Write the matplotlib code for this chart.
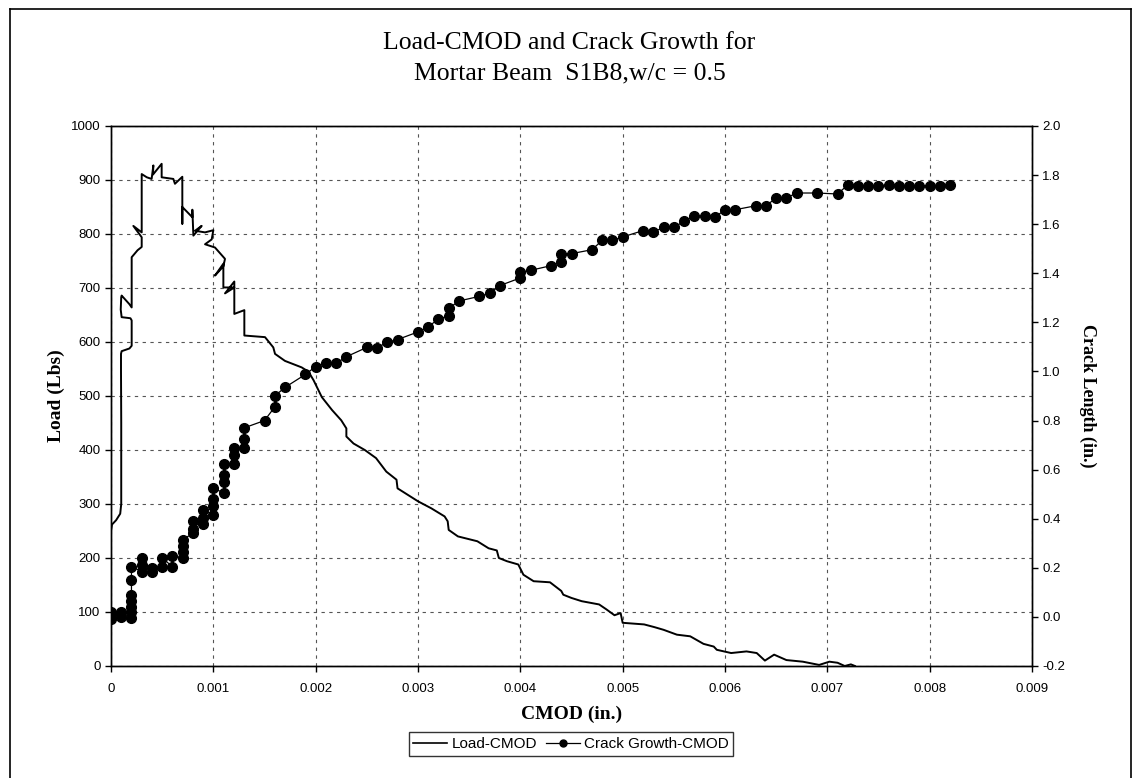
import numpy as np
import matplotlib
matplotlib.use('Agg')
import matplotlib.pyplot as plt
from matplotlib.lines import Line2D

# Load-CMOD curve (CMOD in., load lbs)
load_cmod = [0.0, 0.00001, 0.00005, 0.00009, 0.0001, 0.0001, 0.0000977, 0.0000977,
             0.000104, 0.00018, 0.000202, 0.000202, 0.00019, 0.000104, 0.000095, 0.0001,
             0.000104, 0.00018, 0.000202, 0.000202, 0.00026, 0.0003, 0.0003, 0.000218,
             0.0003, 0.0003, 0.00035, 0.000397, 0.000414, 0.00041, 0.000495, 0.000495,
             0.000609, 0.000625, 0.000697, 0.000697, 0.000697, 0.000795, 0.000795, 0.000805,
             0.000886, 0.000821, 0.000919, 0.001, 0.000984, 0.000919, 0.001016, 0.001114,
             0.001098, 0.001016, 0.001098, 0.001098, 0.001205, 0.001114, 0.001205, 0.001205,
             0.001303, 0.001303, 0.001505, 0.001586, 0.001603, 0.0017, 0.001863, 0.00193,
             0.00198, 0.00206, 0.00216, 0.00225, 0.0023, 0.0023, 0.00237, 0.00248,
             0.00259, 0.00269, 0.00279, 0.0028, 0.0029, 0.003, 0.00313, 0.00326,
             0.00329, 0.0033, 0.00339, 0.00358, 0.00369, 0.00377, 0.00379, 0.00387,
             0.00398, 0.00403, 0.00413, 0.00429, 0.0044, 0.00442, 0.0045, 0.0046,
             0.00477, 0.00484, 0.00492, 0.00498, 0.005, 0.00521, 0.00531, 0.0054,
             0.00553, 0.00566, 0.00579, 0.00589, 0.00592, 0.00606, 0.00621, 0.00631,
             0.00639, 0.00648, 0.0066, 0.00676, 0.00692, 0.00702, 0.0071, 0.00717,
             0.00723, 0.00727]
load_lbs = [250, 262, 270, 282, 300, 450, 547, 578,
            583, 588, 593, 640, 644, 646, 660, 683,
            686, 670, 664, 757, 770, 776, 794, 815,
            803, 911, 905, 902, 927, 910, 930, 905,
            902, 893, 906, 819, 850, 831, 845, 797,
            815, 806, 803, 807, 790, 781, 775, 754,
            740, 723, 745, 701, 701, 690, 712, 652,
            659, 612, 609, 590, 578, 565, 553, 545,
            529, 498, 474, 455, 440, 425, 412, 400,
            385, 360, 345, 329, 317, 305, 292, 277,
            268, 252, 240, 231, 218, 214, 200, 194,
            188, 169, 157, 155, 139, 132, 126, 120,
            114, 105, 94, 98, 80, 77, 72, 67,
            58, 55, 41, 36, 30, 24, 27, 24,
            10, 21, 11, 8, 2, 8, 6, 0,
            3, 0]

# Crack growth (CMOD in., crack length in.)
crack_cmod = [0.0, 0.0, 0.0, 0.0001, 0.0001,
              0.0002, 0.0002, 0.0002, 0.0002, 0.0002, 0.0002, 0.0002,
              0.0003, 0.0003, 0.0003, 0.0004, 0.0004, 0.0005, 0.0005, 0.0006, 0.0006,
              0.0007, 0.0007, 0.0007, 0.0007, 0.0008, 0.0008, 0.0008,
              0.0009, 0.0009, 0.0009, 0.001, 0.001, 0.001, 0.001,
              0.0011, 0.0011, 0.0011, 0.0011, 0.0012, 0.0012, 0.0012,
              0.0013, 0.0013, 0.0013, 0.0015, 0.0016, 0.0016, 0.0017, 0.0019,
              0.002, 0.0021, 0.0022, 0.0023, 0.0025, 0.0026, 0.0027, 0.0028,
              0.003, 0.0031, 0.0032, 0.0033, 0.0033, 0.0034, 0.0036, 0.0037, 0.0038,
              0.004, 0.004, 0.0041, 0.0043, 0.0044, 0.0044, 0.0045, 0.0047, 0.0048,
              0.0049, 0.005, 0.0052, 0.0053, 0.0054, 0.0055, 0.0056, 0.0057, 0.0058,
              0.0059, 0.006, 0.0061, 0.0063, 0.0064, 0.0065, 0.0066, 0.0067, 0.0069,
              0.0071, 0.0072, 0.0073, 0.0074, 0.0075, 0.0076, 0.0077, 0.0078, 0.0079,
              0.008, 0.0081, 0.0082]
crack_len = [-0.01, 0.01, 0.02, 0.0, 0.02,
             -0.005, 0.02, 0.04, 0.065, 0.09, 0.15, 0.205,
             0.185, 0.21, 0.24, 0.185, 0.2, 0.205, 0.24, 0.205, 0.25,
             0.24, 0.265, 0.29, 0.315, 0.34, 0.36, 0.39,
             0.38, 0.405, 0.435, 0.415, 0.45, 0.48, 0.525,
             0.505, 0.55, 0.58, 0.625, 0.625, 0.66, 0.69,
             0.69, 0.725, 0.77, 0.80, 0.855, 0.90, 0.935, 0.988,
             1.02, 1.033, 1.033, 1.06, 1.098, 1.097, 1.119, 1.13,
             1.161, 1.181, 1.215, 1.225, 1.257, 1.287, 1.306, 1.318, 1.35,
             1.381, 1.404, 1.412, 1.431, 1.445, 1.48, 1.48, 1.496, 1.534,
             1.534, 1.548, 1.574, 1.568, 1.587, 1.587, 1.612, 1.632, 1.632,
             1.628, 1.659, 1.659, 1.675, 1.675, 1.707, 1.707, 1.727, 1.727,
             1.723, 1.76, 1.757, 1.757, 1.757, 1.76, 1.757, 1.757, 1.757,
             1.757, 1.757, 1.758]

x_ticks = np.arange(0, 0.0091, 0.001)
x_labels = ['0', '0.001', '0.002', '0.003', '0.004', '0.005', '0.006', '0.007', '0.008', '0.009']

serif = 'Liberation Serif'
sans = 'Liberation Sans'

fig = plt.figure(figsize=(11.39, 7.78), dpi=100)
ax = fig.add_axes([111/1139, 1-666/778, (1032-111)/1139, 540/778])
ax2 = ax.twinx()

ax.plot(load_cmod, load_lbs, color='black', lw=1.4, zorder=3)
ax2.plot(crack_cmod, crack_len, color='black', lw=0.9, marker='o', ms=7, zorder=3)

ax.set_xlim(0, 0.009)
ax.set_ylim(0, 1000)
ax2.set_ylim(-0.2, 2.0)
ax.set_xticks(x_ticks)
ax.set_xticklabels(x_labels)
ax.set_yticks(np.arange(0, 1001, 100))
ax2.set_yticks(np.arange(-0.2, 2.01, 0.2))
ax2.set_yticklabels(['%.1f' % v for v in np.arange(-0.2, 2.01, 0.2)])

ax.grid(True, color='#555555', ls=(0, (3, 4)), lw=0.8)
ax.set_axisbelow(True)

for a in (ax, ax2):
    a.tick_params(direction='out', length=4, width=1, labelsize=9.5)
    for lab in a.get_xticklabels() + a.get_yticklabels():
        lab.set_fontfamily(sans)
    for s in a.spines.values():
        s.set_linewidth(1.0)
ax.tick_params(axis='x', pad=8)

ax.set_xlabel('CMOD (in.)', fontfamily=serif, fontweight='bold', fontsize=14, labelpad=8)
ax.set_ylabel('Load (Lbs)', fontfamily=serif, fontweight='bold', fontsize=14, labelpad=4)
ax2.set_ylabel('Crack Length (in.)', fontfamily=serif, fontweight='bold', fontsize=13,
               rotation=270, labelpad=22)

fig.text(0.5, 1-43/778, 'Load-CMOD and Crack Growth for', ha='center', va='center',
         fontfamily=serif, fontsize=18.5)
fig.text(0.5, 1-73/778, 'Mortar Beam  S1B8,w/c = 0.5', ha='center', va='center',
         fontfamily=serif, fontsize=18.5)

handles = [Line2D([], [], color='black', lw=1.2),
           Line2D([], [], color='black', lw=0.9, marker='o', ms=5)]
leg = fig.legend(handles, ['Load-CMOD', 'Crack Growth-CMOD'], loc='center',
                 bbox_to_anchor=(571/1139, 1-744/778), ncol=2, frameon=True,
                 fancybox=False, edgecolor='black', prop={'family': sans, 'size': 11},
                 handlelength=2.2, handletextpad=0.3, columnspacing=0.6, borderpad=0.3)
leg.get_frame().set_linewidth(1.0)

# outer frame
fig.add_artist(Line2D([10/1139, 10/1139], [0, 1-9/778], color='black', lw=1.2))
fig.add_artist(Line2D([10/1139, 1131/1139], [1-9/778, 1-9/778], color='black', lw=1.2))
fig.add_artist(Line2D([1131/1139, 1131/1139], [0, 1-9/778], color='black', lw=1.2))

fig.savefig('out.png', dpi=100)
